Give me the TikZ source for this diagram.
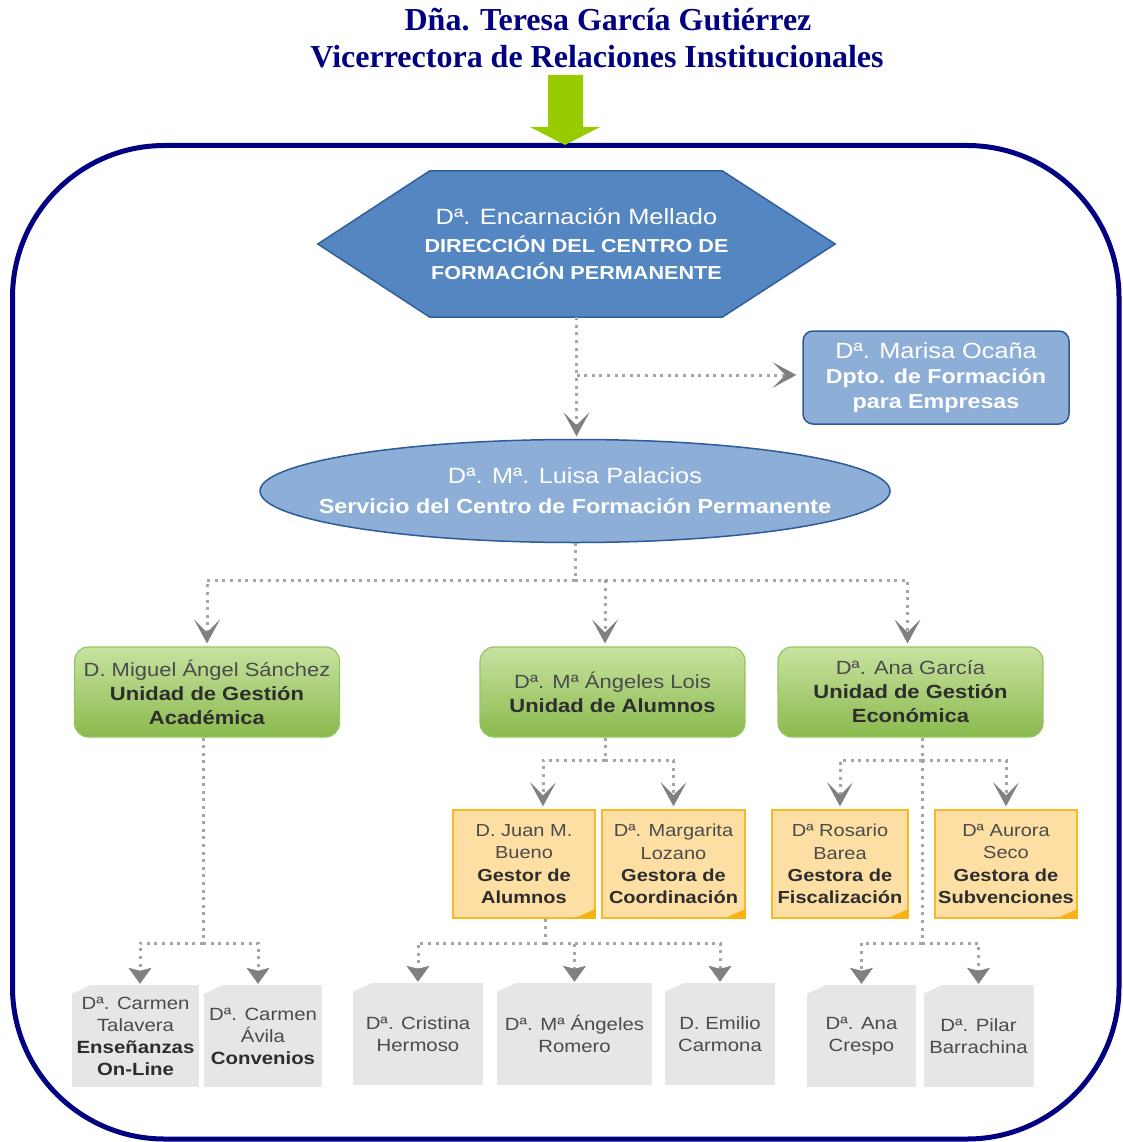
\documentclass[tikz,border=0pt]{standalone}
\usepackage{fontspec}
\setmainfont{Liberation Sans}[FakeStretch=1.15]
\newfontfamily\titlefont{Liberation Serif}
\usetikzlibrary{arrows.meta,shapes.geometric,calc}
\pgfdeclarelayer{background}
\pgfsetlayers{background,main}
\definecolor{navyc}{RGB}{0,0,128}
\definecolor{arrowgreen}{RGB}{153,204,0}
\definecolor{hexfill}{RGB}{84,134,194}
\definecolor{hexdraw}{RGB}{50,95,155}
\definecolor{ltblue}{RGB}{141,175,215}
\definecolor{bluedraw}{RGB}{45,90,155}
\definecolor{gtop}{RGB}{200,226,160}
\definecolor{gbot}{RGB}{138,186,78}
\definecolor{gdraw}{RGB}{150,196,95}
\definecolor{yfill}{RGB}{253,223,163}
\definecolor{ydraw}{RGB}{247,185,40}
\definecolor{yfold}{RGB}{248,178,20}
\definecolor{grayfill}{RGB}{230,230,230}
\definecolor{connc}{RGB}{165,165,165}
\definecolor{tipc}{RGB}{128,128,128}
\definecolor{txtreg}{RGB}{75,75,75}
\definecolor{txtbold}{RGB}{45,45,45}
\newcommand\regl[1]{{\color{txtreg}#1}}
\newcommand\boldl[1]{{\color{txtbold}\bfseries #1}}
\tikzset{
  chevtip/.tip={Stealth[length=24pt,width=26pt,inset=13pt,line width=0.6pt,color=tipc,fill=tipc]},
  tritip/.tip={Stealth[length=16pt,width=23pt,inset=3pt,line width=0.6pt,color=tipc,fill=tipc]},
  conn/.style={draw=connc,line width=3pt,dash pattern=on 3pt off 4.6pt},
  chevconn/.style={conn,-chevtip,shorten >=3pt},
  triconn/.style={conn,-tritip,shorten >=1pt},
  hexbox/.style={inner sep=0pt,minimum width=517pt,minimum height=146pt,text=white,align=center,font=\fontsize{18.8}{27.5}\selectfont},
  marbox/.style={rectangle,rounded corners=10pt,fill=ltblue,draw=bluedraw,line width=1.5pt,inner sep=0pt,minimum width=266pt,minimum height=93pt,text=white,align=center,font=\fontsize{20.2}{25}\selectfont},
  ellbox/.style={rectangle,inner sep=0pt,minimum width=630pt,minimum height=103pt,text=white,align=center,font=\fontsize{20.3}{30}\selectfont},
  gbox/.style={rectangle,rounded corners=14pt,top color=gtop,bottom color=gbot,draw=gdraw,line width=1.2pt,inner sep=0pt,minimum width=265pt,minimum height=90pt,align=center,text=txtbold,font=\fontsize{19.1}{24}\selectfont},
  ybox/.style={rectangle,fill=yfill,draw=ydraw,line width=1.5pt,inner sep=0pt,minimum height=108pt,align=center,text=txtbold,font=\fontsize{17.4}{22.3}\selectfont},
  graybox/.style={rectangle,fill=grayfill,inner sep=0pt,minimum height=102pt,align=center,text=txtreg,font=\fontsize{17.7}{22}\selectfont},
  titlestyle/.style={anchor=base,text=navyc,inner sep=0pt,font=\titlefont\bfseries\fontsize{32}{37}\selectfont}
}
\begin{document}
\begin{tikzpicture}[x=1pt,y=-1pt]
\useasboundingbox (0,0) rectangle (1122,1142);
% frame
\draw[navyc,line width=5pt,rounded corners=152pt] (12.5,145.5) rectangle (1119,1139);
% title
\node[titlestyle] (t1) at (608,31) {Dña. Teresa García Gutiérrez};
\node[titlestyle] (t2) at (597,68) {Vicerrectora de Relaciones Institucionales};
% green arrow
\fill[arrowgreen] (548,75) -- (583,75) -- (583,127) -- (600,127) -- (565,145) -- (530,127) -- (548,127) -- cycle;

% main nodes
\node[hexbox] (hex) at (576.5,244) {{\fontsize{22.1}{27.5}\selectfont Dª. Encarnación Mellado}\\\textbf{DIRECCIÓN DEL CENTRO DE}\\\textbf{FORMACIÓN PERMANENTE}};
\node[marbox] (mar) at (936,377.5) {{\fontsize{22}{25}\selectfont Dª. Marisa Ocaña}\\\textbf{Dpto. de Formación}\\\textbf{para Empresas}};
\node[ellbox] (ell) at (575,491) {{\fontsize{22}{30}\selectfont Dª. Mª. Luisa Palacios}\\\textbf{Servicio del Centro de Formación Permanente}};
\begin{pgfonlayer}{background}
\filldraw[fill=hexfill,draw=hexdraw,line width=1.5pt] (hex.west) -- ([xshift=112pt]hex.north west) -- ([xshift=-113pt]hex.north east) -- (hex.east) -- ([xshift=-113pt]hex.south east) -- ([xshift=112pt]hex.south west) -- cycle;
\filldraw[fill=ltblue,draw=bluedraw,line width=1.5pt] (ell.center) ellipse [x radius=315pt, y radius=51.5pt];
\end{pgfonlayer}

\node[gbox] (g1) at (207,692) {\regl{D. Miguel Ángel Sánchez}\\\textbf{Unidad de Gestión}\\\textbf{Académica}};
\node[gbox] (g2) at (612.5,692) {\regl{Dª. Mª Ángeles Lois}\\\textbf{Unidad de Alumnos}};
\node[gbox] (g3) at (910.5,692) {\regl{Dª. Ana García}\\\textbf{Unidad de Gestión}\\\textbf{Económica}};

\node[ybox,minimum width=142pt] (y1) at (524,864) {\regl{D. Juan M.}\\\regl{Bueno}\\\textbf{Gestor de}\\\textbf{Alumnos}};
\node[ybox,minimum width=143pt] (y2) at (673.5,864) {\regl{Dª. Margarita}\\\regl{Lozano}\\\textbf{Gestora de}\\\textbf{Coordinación}};
\node[ybox,minimum width=136pt] (y3) at (840,864) {\regl{Dª Rosario}\\\regl{Barea}\\\textbf{Gestora de}\\\textbf{Fiscalización}};
\node[ybox,minimum width=142pt] (y4) at (1006,864) {\regl{Dª Aurora}\\\regl{Seco}\\\textbf{Gestora de}\\\textbf{Subvenciones}};
\foreach \n in {y1,y2,y3,y4}{
  \fill[yfold] (\n.south east) -- ([xshift=-22pt]\n.south east) -- ([yshift=10pt]\n.south east) -- cycle;
}

\node[graybox,minimum width=127pt] (b1) at (135.5,1036) {Dª. Carmen\\Talavera\\\boldl{Enseñanzas}\\\boldl{On-Line}};
\node[graybox,minimum width=118pt] (b2) at (263,1036) {Dª. Carmen\\Ávila\\\boldl{Convenios}};
\node[graybox,minimum width=130pt] (b3) at (418,1034) {Dª. Cristina\\Hermoso};
\node[graybox,minimum width=155pt] (b4) at (574.5,1034) {Dª. Mª Ángeles\\Romero};
\node[graybox,minimum width=110pt] (b5) at (720,1034) {D. Emilio\\Carmona};
\node[graybox,minimum width=109pt] (b6) at (861.5,1036) {Dª. Ana\\Crespo};
\node[graybox,minimum width=110pt] (b7) at (978.5,1036) {Dª. Pilar\\Barrachina};
\foreach \n in {b1,b2,b3,b4,b5,b6,b7}{
  \fill[white] ([xshift=-0.5pt,yshift=0.5pt]\n.north west) -- ([xshift=20pt,yshift=0.5pt]\n.north west) -- ([yshift=-9pt]\n.north west) -- ([xshift=-0.5pt,yshift=-9pt]\n.north west) -- cycle;
}

% connectors
\coordinate (r1) at (577,580);
\coordinate (r2) at (0,760);
\coordinate (r3) at (0,943);
\coordinate (marin) at ([yshift=2.5pt]mar.west);
\draw[chevconn] (hex.south) -- (hex.south |- ell.north);
\draw[chevconn,shorten >=6pt] (hex.south |- marin) -- (marin);

\draw[conn] (ell.south) -- (ell.south |- r1);
\draw[chevconn] (ell.south |- r1) -| (g1.north);
\draw[chevconn] (ell.south |- r1) -| ([xshift=-7.5pt]g2.north);
\draw[chevconn] (ell.south |- r1) -| ([xshift=-3pt]g3.north);

\coordinate (g1s) at ([xshift=-4pt]g1.south);
\draw[conn] (g1s) -- (g1s |- r3);
\draw[triconn] (g1s |- r3) -| ([xshift=4.5pt]b1.north);
\draw[triconn] (g1s |- r3) -| ([xshift=-5pt]b2.north);

\coordinate (g2s) at ([xshift=-7.5pt]g2.south);
\draw[conn] (g2s) -- (g2s |- r2);
\draw[chevconn] (g2s |- r2) -| ([xshift=19pt]y1.north);
\draw[chevconn] (g2s |- r2) -| (y2.north);

\coordinate (y1s) at ([xshift=21pt]y1.south);
\draw[conn] (y1s) -- (y1s |- r3);
\draw[triconn] (y1s |- r3) -| (b3.north);
\draw[triconn] (y1s |- r3) -| (b4.north);
\draw[triconn] (y1s |- r3) -| (b5.north);

\coordinate (g3s) at ([xshift=11.5pt]g3.south);
\draw[conn] (g3s) -- (g3s |- r3);
\draw[chevconn] (g3s |- r2) -| (y3.north);
\draw[chevconn] (g3s |- r2) -| (y4.north);
\draw[triconn] (g3s |- r3) -| (b6.north);
\draw[triconn] (g3s |- r3) -| (b7.north);
\end{tikzpicture}
\end{document}
